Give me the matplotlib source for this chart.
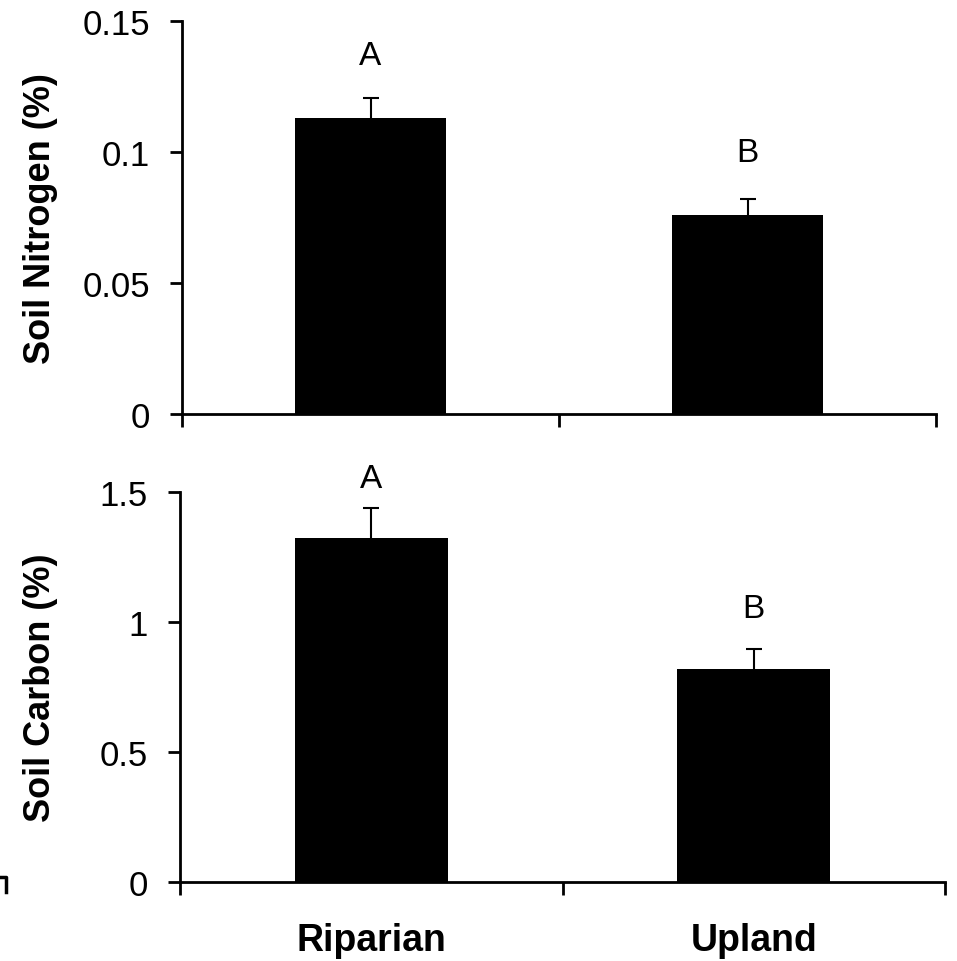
import matplotlib
matplotlib.use("Agg")
import matplotlib.pyplot as plt
from matplotlib.lines import Line2D

plt.rcParams['font.family'] = ['Liberation Sans', 'DejaVu Sans']

categories = ['Riparian', 'Upland']
nitrogen = [0.113, 0.076]
nitrogen_err = [0.0075, 0.006]
nitrogen_letters = ['A', 'B']
nitrogen_letter_y = [0.137, 0.100]
carbon = [1.323, 0.819]
carbon_err = [0.115, 0.077]
carbon_letters = ['A', 'B']
carbon_letter_y = [1.55, 1.05]

W, H = 957, 962
fig = plt.figure(figsize=(W / 100, H / 100), dpi=100)

def axes_px(left, right, top, bottom):
    return fig.add_axes([left / W, 1 - bottom / H, (right - left) / W, (bottom - top) / H])

ax1 = axes_px(182, 936, 22, 415)
ax2 = axes_px(180, 945, 493, 883)

def style(ax, vals, errs, letters, letter_y, ylim, yticks, yticklabels, ylabel, show_x):
    x = range(len(vals))
    ax.bar(x, vals, width=0.4, color='black', zorder=2)
    # lower half of each error bar sits hidden inside the bar
    ax.errorbar(x, vals, yerr=errs, fmt='none', ecolor='black',
                elinewidth=1.5, capsize=5.5, capthick=1.5, zorder=1)
    for xi, lab, ly in zip(x, letters, letter_y):
        ax.text(xi, ly, lab, ha='center', va='center', fontsize=24, clip_on=False)
    ax.set_xlim(-0.5, len(vals) - 0.5)
    ax.set_ylim(*ylim)
    ax.set_yticks(yticks)
    ax.set_yticklabels(yticklabels, fontsize=25)
    ax.set_xticks(list(x))
    if show_x:
        ax.set_xticklabels(categories, fontsize=27, fontweight='bold')
    else:
        ax.set_xticklabels([])
    ax.set_xticks([-0.5, 0.5, len(vals) - 0.5], minor=True)
    ax.tick_params(axis='x', which='major', length=0, pad=29)
    ax.tick_params(axis='x', which='minor', length=9, width=2, direction='out')
    ax.tick_params(axis='y', length=9, width=2, direction='out', pad=14)
    for s in ['top', 'right']:
        ax.spines[s].set_visible(False)
    for s in ['left', 'bottom']:
        ax.spines[s].set_linewidth(2)
    ax.set_ylabel(ylabel, fontsize=26, fontweight='bold')

style(ax1, nitrogen, nitrogen_err, nitrogen_letters, nitrogen_letter_y,
      (0, 0.15), [0, 0.05, 0.1, 0.15], ['0', '0.05', '0.1', '0.15'],
      'Soil Nitrogen (%)', False)
style(ax2, carbon, carbon_err, carbon_letters, carbon_letter_y,
      (0, 1.5), [0, 0.5, 1, 1.5], ['0', '0.5', '1', '1.5'],
      'Soil Carbon (%)', True)

ax1.yaxis.set_label_coords(-124 / 754, 0.5)
ax2.yaxis.set_label_coords(-122 / 765, 0.5)

# small leftover mark at the lower left edge
fig.add_artist(Line2D([0 / W, 6 / W, 6 / W], [1 - 878 / H, 1 - 878 / H, 1 - 893 / H],
                      color='black', linewidth=2.5, transform=fig.transFigure))

fig.savefig('out.png', dpi=100)
